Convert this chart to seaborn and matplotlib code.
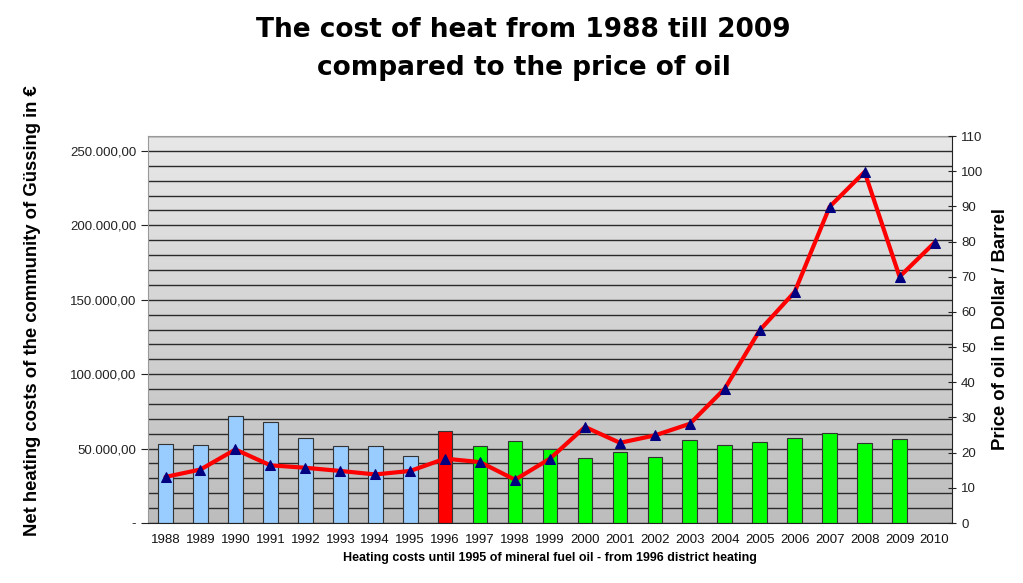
import numpy as np
import pandas as pd
import seaborn as sns
import matplotlib.pyplot as plt
from matplotlib.colors import LinearSegmentedColormap
from matplotlib.ticker import FuncFormatter, MultipleLocator

# Data
years = [str(y) for y in range(1988, 2011)]
cost_years = [str(y) for y in range(1988, 2010)]
heating_costs = [52800, 52100, 71800, 67800, 57000, 51700, 51700, 45000,
                 61900, 51700, 55000, 49900, 43400, 47700, 44100, 55500,
                 52300, 54400, 56800, 60200, 53900, 56200]
oil_price = [13.1, 15.2, 20.9, 16.4, 15.7, 14.8, 13.8, 14.8, 18.3, 17.3,
             12.3, 18.3, 27.3, 22.8, 24.9, 28.2, 38.2, 54.8, 65.7, 89.9,
             99.8, 70.0, 79.7]

bar_colors = ["#99CCFF"] * 8 + ["#FF0000"] + ["#00FF00"] * 13

sns.set_style("white")
plt.rcParams['font.family'] = ['Liberation Sans', 'DejaVu Sans']
plt.rcParams['text.color'] = 'black'
plt.rcParams['axes.labelcolor'] = 'black'

fig = plt.figure(figsize=(10.23, 5.83), dpi=100)
ax = fig.add_axes([0.1447, 0.1029, 0.7859, 0.6638])

df = pd.DataFrame({'year': cost_years, 'cost': heating_costs})
sns.barplot(data=df, x='year', y='cost', order=years, hue='year',
            palette=bar_colors, hue_order=cost_years, legend=False, saturation=1,
            width=0.42, edgecolor='#333333', linewidth=0.8, ax=ax, zorder=2)

ax.set_xlim(-0.5, len(years) - 0.5)
ax.set_ylim(0, 260000)

# gray gradient plot area
grad = np.linspace(0, 1, 256).reshape(-1, 1)
ax.imshow(grad, extent=(-0.5, len(years) - 0.5, 0, 260000), aspect='auto',
          cmap=LinearSegmentedColormap.from_list('g', ['#BDBDBD', '#E8E8E8']),
          origin='lower', zorder=0)
ax.set_axisbelow(True)
ax.yaxis.set_major_locator(MultipleLocator(50000))
ax.yaxis.set_minor_locator(MultipleLocator(10000))
ax.grid(True, which='both', axis='y', color='#2a2a2a', linewidth=1.0, zorder=0.5)
ax.grid(False, axis='x')
ax.yaxis.set_major_formatter(FuncFormatter(
    lambda v, p: '-' if v == 0 else f"{v:,.2f}".replace(',', 'X').replace('.', ',').replace('X', '.')))
ax.tick_params(axis='y', which='major', length=5, direction='out', labelsize=9.5, colors='#222222')
ax.tick_params(axis='y', which='minor', length=0)
ax.set_xticks(range(len(years)))
ax.set_xticklabels(years)
ax.set_xticks(np.arange(-0.5, len(years), 1), minor=True)
ax.tick_params(axis='x', which='major', length=0, labelsize=9.5, pad=8, colors='#111111')
ax.tick_params(axis='x', which='minor', length=8, direction='inout', color='#222222')
for s in ['top', 'left']:
    ax.spines[s].set_color('#999999')
ax.spines['bottom'].set_color('#222222')
ax.spines['right'].set_visible(False)

ax.set_xlabel("Heating costs until 1995 of mineral fuel oil - from 1996 district heating",
              fontsize=9, fontweight='bold', labelpad=4)
ax.set_ylabel("Net heating costs of the community of Güssing in €",
              fontsize=13.3, fontweight='bold', labelpad=21)
ax.yaxis.label.set_y(0.55)

ax2 = ax.twinx()
sns.lineplot(x=np.arange(len(years)), y=oil_price, ax=ax2, color='#FF0000',
             linewidth=3, marker='^', markersize=6.5, markerfacecolor='#000080',
             markeredgecolor='#000080', zorder=3)
ax2.set_ylim(0, 110)
ax2.set_xlim(-0.5, len(years) - 0.5)
ax2.yaxis.set_major_locator(MultipleLocator(10))
ax2.tick_params(axis='y', length=6, direction='inout', labelsize=9.5, colors='#222222')
for s in ['top', 'left', 'bottom']:
    ax2.spines[s].set_visible(False)
ax2.spines['right'].set_color('#222222')
ax2.set_ylabel("Price of oil in Dollar / Barrel", fontsize=13.3, fontweight='bold', labelpad=6)
ax2.grid(False)

fig.text(0.512, 0.948, "The cost of heat from 1988 till 2009", ha='center', va='center',
         fontsize=19, fontweight='bold', family='DejaVu Sans', color='black')
fig.text(0.512, 0.883, "compared to the price of oil", ha='center', va='center',
         fontsize=19, fontweight='bold', family='DejaVu Sans', color='black')

fig.savefig('out.png', dpi=100)
